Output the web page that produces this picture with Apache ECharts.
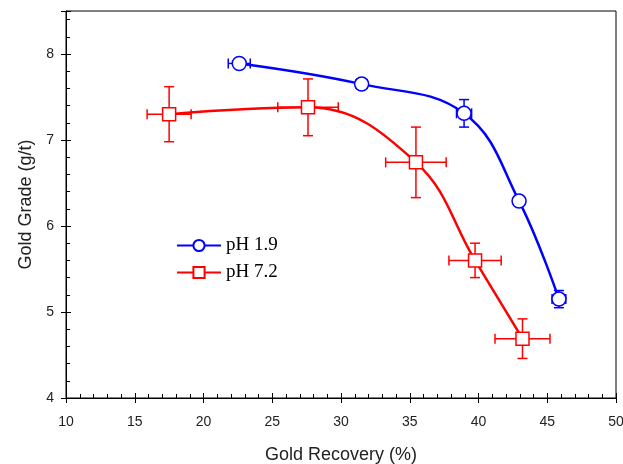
<!DOCTYPE html>
<html>
<head>
<meta charset="utf-8">
<script src="https://cdn.jsdelivr.net/npm/echarts@6/dist/echarts.min.js"></script>
<style>
  html, body { margin: 0; padding: 0; background: #fff; }
  #chart { width: 623px; height: 464px; }
</style>
</head>
<body>
<div id="chart"></div>
<script>
// data
const ph19X = [22.6, 31.5, 38.95, 42.95, 45.85];
const ph19Y = [7.89, 7.65, 7.31, 6.29, 5.15];
const ph19XErr = [0.8, 0.4, 0.55, 0, 0.5];
const ph19YErr = [0, 0.06, 0.16, 0, 0.1];

const ph72X = [17.5, 27.6, 35.45, 39.75, 43.2];
const ph72Y = [7.30, 7.38, 6.74, 5.60, 4.69];
const ph72XErr = [1.6, 2.2, 2.2, 1.9, 2.0];
const ph72YErr = [0.32, 0.33, 0.41, 0.2, 0.23];

const seriesNames = ['pH 1.9', 'pH 7.2'];
const blue = '#0000ff';
const red = '#ff0000';

function pairs(xs, ys) {
  return xs.map((x, i) => [x, ys[i]]);
}

function errRows(xs, ys, xe, ye) {
  return xs.map((x, i) => [x, ys[i], xe[i], ye[i]]);
}

// 误差线
function errorBarItem(color) {
  return function (params, api) {
    let x = api.value(0), y = api.value(1);
    let xe = api.value(2), ye = api.value(3);
    let cap = 5;
    let children = [];
    let style = { stroke: color, lineWidth: 1.5 };
    if (ye > 0) {
      let top = api.coord([x, y + ye]);
      let bot = api.coord([x, y - ye]);
      children.push({ type: 'line', shape: { x1: top[0], y1: top[1], x2: bot[0], y2: bot[1] }, style: style });
      children.push({ type: 'line', shape: { x1: top[0] - cap, y1: top[1], x2: top[0] + cap, y2: top[1] }, style: style });
      children.push({ type: 'line', shape: { x1: bot[0] - cap, y1: bot[1], x2: bot[0] + cap, y2: bot[1] }, style: style });
    }
    if (xe > 0) {
      let l = api.coord([x - xe, y]);
      let r = api.coord([x + xe, y]);
      children.push({ type: 'line', shape: { x1: l[0], y1: l[1], x2: r[0], y2: r[1] }, style: style });
      children.push({ type: 'line', shape: { x1: l[0], y1: l[1] - cap, x2: l[0], y2: l[1] + cap }, style: style });
      children.push({ type: 'line', shape: { x1: r[0], y1: r[1] - cap, x2: r[0], y2: r[1] + cap }, style: style });
    }
    return { type: 'group', children: children };
  };
}

const chart = echarts.init(document.getElementById('chart'));

const labelFont = { fontFamily: 'Liberation Sans', fontSize: 14, color: '#222' };
const nameFont = { fontFamily: 'Liberation Sans', fontSize: 18, color: '#222' };

chart.setOption({
  animation: false,
  grid: {
    left: 66, right: 7, top: 11, bottom: 66,
    outerBoundsMode: 'none',
    containLabel: false,
    show: true, borderColor: '#000', borderWidth: 1, backgroundColor: 'transparent'
  },
  legend: {
    orient: 'vertical',
    left: 171, top: 231,
    itemWidth: 44, itemHeight: 14, itemGap: 8,
    textStyle: { fontFamily: 'Liberation Serif', fontSize: 19, color: '#000' },
    data: seriesNames
  },
  xAxis: [
    {
      type: 'value', min: 10, max: 50, interval: 5,
      name: 'Gold Recovery (%)', nameLocation: 'middle', nameGap: 48,
      nameTextStyle: nameFont,
      axisLine: { lineStyle: { color: '#000', width: 1 } },
      axisTick: { inside: true, length: 5, lineStyle: { color: '#000' } },
      minorTick: { show: true, splitNumber: 5, length: 4, lineStyle: { color: '#000' } },
      axisLabel: Object.assign({ margin: 17 }, labelFont),
      splitLine: { show: false }
    },
    {
      type: 'value', min: 10, max: 50, interval: 5, position: 'bottom',
      axisLine: { show: false },
      axisTick: { inside: false, length: 5, lineStyle: { color: '#000' } },
      axisLabel: { show: false },
      splitLine: { show: false }
    }
  ],
  yAxis: [
    {
      type: 'value', min: 4, max: 8.5, interval: 1,
      name: 'Gold Grade (g/t)', nameLocation: 'middle', nameGap: 31,
      nameTextStyle: nameFont,
      axisLine: { lineStyle: { color: '#000', width: 1 } },
      axisTick: { inside: true, length: 5, lineStyle: { color: '#000' } },
      minorTick: { show: true, splitNumber: 5, length: 4, lineStyle: { color: '#000' } },
      axisLabel: Object.assign({ margin: 12, showMaxLabel: false }, labelFont),
      splitLine: { show: false }
    },
    {
      type: 'value', min: 4, max: 8.5, interval: 1, position: 'left',
      axisLine: { show: false },
      axisTick: { inside: false, length: 5, lineStyle: { color: '#000' } },
      axisLabel: { show: false },
      splitLine: { show: false }
    }
  ],
  series: [
    {
      type: 'custom', z: 1, silent: true,
      renderItem: errorBarItem(blue),
      data: errRows(ph19X, ph19Y, ph19XErr, ph19YErr)
    },
    {
      type: 'custom', z: 1, silent: true,
      renderItem: errorBarItem(red),
      data: errRows(ph72X, ph72Y, ph72XErr, ph72YErr)
    },
    {
      name: seriesNames[0], type: 'line', z: 3,
      smooth: 0.4,
      symbol: 'circle', symbolSize: 14,
      color: blue,
      lineStyle: { color: blue, width: 2.5 },
      itemStyle: { color: '#fff', borderColor: blue, borderWidth: 1.5 },
      data: pairs(ph19X, ph19Y)
    },
    {
      name: seriesNames[1], type: 'line', z: 3,
      smooth: 0.4,
      symbol: 'rect', symbolSize: 13,
      color: red,
      lineStyle: { color: red, width: 2.5 },
      itemStyle: { color: '#fff', borderColor: red, borderWidth: 1.5 },
      data: pairs(ph72X, ph72Y)
    }
  ]
});
</script>
</body>
</html>
